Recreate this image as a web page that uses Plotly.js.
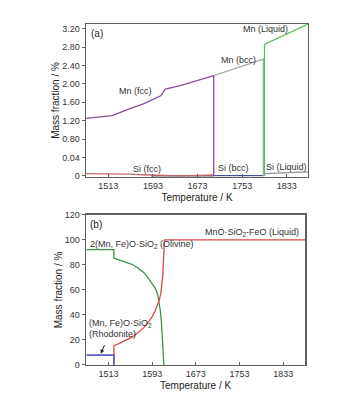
<!DOCTYPE html>
<html><head><meta charset="utf-8">
<script src="https://cdn.plot.ly/plotly-3.0.1.min.js"></script>
<style>html,body{margin:0;padding:0;background:#fff}#plot{width:354px;height:401px}</style>
</head><body><div id="plot"></div>
<script>
// ---- Panel (a): mass fraction of elements in phases ----
const mnFccT = [1473, 1520, 1547, 1577, 1607, 1612, 1615, 1642, 1702, 1702];
const mnFccV = [1.25, 1.31, 1.44, 1.57, 1.74, 1.83, 1.885, 1.96, 2.18, 0];
const mnBccT = [1702, 1791, 1791];
const mnBccV = [2.18, 2.54, 0];
const mnLiqT = [1793, 1793, 1871];
const mnLiqV = [0, 2.86, 3.30];
const siFccT = [1473, 1520, 1550, 1575, 1600, 1640, 1680, 1702];
const siFccV = [0.05, 0.05, 0.04, 0.025, 0.01, 0.0, 0.01, 0.02];
const siFccDarkT = [1590, 1702];
const siFccDarkV = [0.0, 0.0];
const siBccT = [1702, 1791];
const siBccV = [0.005, 0.005];
const siLiqT = [1793, 1871];
const siLiqV = [0.05, 0.09];
const aTickVals = [0, 0.4, 0.8, 1.2, 1.6, 2.0, 2.4, 2.8, 3.2];
const aTickText = ["0", "0.04", "0.80", "1.20", "1.60", "2.00", "2.40", "2.80", "3.20"];

// ---- Panel (b): mass fraction of oxide phases ----
const olivT = [1473, 1523, 1523, 1530, 1544, 1556, 1568, 1578, 1586, 1593, 1599, 1603, 1606, 1608, 1610, 1612, 1613.5, 1614.5];
const olivV = [92.2, 92.2, 85.5, 84.5, 82.8, 80.5, 77.4, 73.8, 69.3, 65.3, 61.2, 56.5, 49.1, 43.5, 34, 20.7, 9, 0];
const liqT = [1523, 1523, 1533, 1544, 1556, 1568, 1578, 1586, 1593, 1599, 1603, 1606, 1609, 1611, 1612.5, 1614, 1615.6, 1873];
const liqV = [0, 15.4, 17.3, 19.4, 22.2, 26.1, 30.0, 34.2, 38.5, 43.7, 47.5, 51.8, 57.5, 64, 72, 85.5, 100, 100];
const rhodT = [1473, 1523, 1523];
const rhodV = [7.8, 7.8, 0];

const xTicks = [1513, 1593, 1673, 1753, 1833];

const font = "Liberation Sans, Arial, sans-serif";
function ln(x, y, color, xa, ya, w) {
  return {x: x, y: y, type: 'scatter', mode: 'lines', xaxis: xa, yaxis: ya,
          line: {color: color, width: w || 1.3}, hoverinfo: 'skip', showlegend: false};
}
const traces = [
  ln(siFccDarkT, siFccDarkV, '#302020', 'x', 'y'),
  ln(siFccT, siFccV, '#c06a6a', 'x', 'y'),
  ln(siBccT, siBccV, '#4050a8', 'x', 'y'),
  ln(siLiqT, siLiqV, '#909090', 'x', 'y'),
  ln(mnFccT, mnFccV, '#8a4d9c', 'x', 'y'),
  ln(mnBccT, mnBccV, '#a8a8a8', 'x', 'y'),
  ln(mnLiqT, mnLiqV, '#58c058', 'x', 'y'),
  ln(olivT, olivV, '#3c9448', 'x2', 'y2'),
  ln(liqT, liqV, '#d84848', 'x2', 'y2'),
  ln(rhodT, rhodV, '#5860c8', 'x2', 'y2', 1.6)
];

const axBase = {
  showgrid: false, zeroline: false, showline: true, mirror: true,
  linecolor: '#606060', linewidth: 1.5,
  tickfont: {family: font, size: 9, color: '#333'},
  ticklen: 3, tickcolor: '#606060'
};
const layout = {
  width: 354, height: 401,
  margin: {l: 0, r: 0, t: 0, b: 0},
  paper_bgcolor: '#fff', plot_bgcolor: '#fff',
  font: {family: font, color: '#333'},
  xaxis: Object.assign({}, axBase, {
    domain: [0.243, 0.870], anchor: 'y', range: [1473, 1871],
    tickvals: xTicks, ticks: 'inside',
    title: {text: 'Temperature / K', font: {family: font, size: 10, color: '#222'}, standoff: 4}
  }),
  yaxis: Object.assign({}, axBase, {
    domain: [0.559, 0.940], anchor: 'x', range: [-0.02, 3.30],
    tickvals: aTickVals, ticktext: aTickText, ticks: 'outside',
    title: {text: 'Mass fraction / %', font: {family: font, size: 10, color: '#222'}, standoff: 0}
  }),
  xaxis2: Object.assign({}, axBase, {
    domain: [0.243, 0.862], anchor: 'y2', range: [1472, 1873],
    tickvals: xTicks, ticks: 'inside',
    title: {text: 'Temperature / K', font: {family: font, size: 10, color: '#222'}, standoff: 4}
  }),
  yaxis2: Object.assign({}, axBase, {
    domain: [0.090, 0.464], anchor: 'x2', range: [0, 120],
    tickvals: [0, 20, 40, 60, 80, 100, 120], ticks: 'outside',
    title: {text: 'Mass fraction / %', font: {family: font, size: 10, color: '#222'}, standoff: 0}
  }),
  annotations: [
    {text: '(a)', xref: 'x', yref: 'y', x: 1493, y: 3.1, showarrow: false, font: {family: font, size: 10, color: '#222'}},
    {text: 'Mn (fcc)', xref: 'x', yref: 'y', x: 1562, y: 1.84, showarrow: false, font: {family: font, size: 9, color: '#333'}},
    {text: 'Mn (bcc)', xref: 'x', yref: 'y', x: 1746, y: 2.51, showarrow: false, font: {family: font, size: 9, color: '#333'}},
    {text: 'Mn (Liquid)', xref: 'x', yref: 'y', x: 1794, y: 3.20, showarrow: false, font: {family: font, size: 9, color: '#333'}},
    {text: 'Si (fcc)', xref: 'x', yref: 'y', x: 1583, y: 0.15, showarrow: false, font: {family: font, size: 9, color: '#333'}},
    {text: 'Si (bcc)', xref: 'x', yref: 'y', x: 1738, y: 0.17, showarrow: false, font: {family: font, size: 9, color: '#333'}},
    {text: 'Si (Liquid)', xref: 'x', yref: 'y', x: 1833, y: 0.20, showarrow: false, font: {family: font, size: 9, color: '#333'}},
    {text: '(b)', xref: 'x2', yref: 'y2', x: 1490, y: 112, showarrow: false, font: {family: font, size: 10, color: '#222'}},
    {text: '2(Mn, Fe)O·SiO<sub>2</sub> (Olivine)', xref: 'x2', yref: 'y2', x: 1475, y: 96.5, xanchor: 'left', showarrow: false, font: {family: font, size: 9, color: '#333'}},
    {text: 'MnO·SiO<sub>2</sub>-FeO (Liquid)', xref: 'x2', yref: 'y2', x: 1775, y: 106, showarrow: false, font: {family: font, size: 9, color: '#333'}},
    {text: '(Mn, Fe)O·SiO<sub>2</sub>', xref: 'x2', yref: 'y2', x: 1474, y: 33.5, xanchor: 'left', showarrow: false, font: {family: font, size: 9, color: '#333'}},
    {text: '(Rhodonite)', xref: 'x2', yref: 'y2', x: 1474, y: 24.5, xanchor: 'left', showarrow: false, font: {family: font, size: 9, color: '#333'}},
    {text: '', xref: 'x2', yref: 'y2', x: 1499, y: 9, ax: 1507, ay: 17, axref: 'x2', ayref: 'y2', showarrow: true, arrowhead: 2, arrowsize: 0.8, arrowwidth: 1, arrowcolor: '#222'}
  ]
};
Plotly.newPlot('plot', traces, layout, {staticPlot: true, displayModeBar: false});
</script></body></html>
